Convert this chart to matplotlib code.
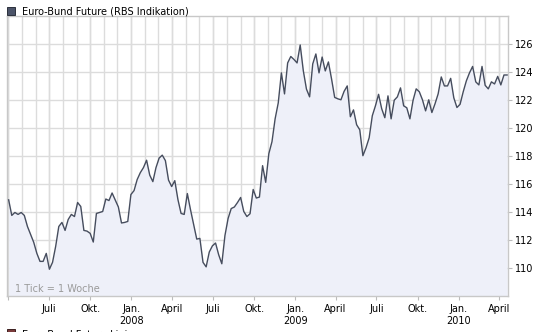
import matplotlib
matplotlib.use("Agg")
import matplotlib.pyplot as plt
import matplotlib.dates as mdates
from matplotlib.patches import Rectangle
from matplotlib.ticker import FuncFormatter
import numpy as np
import pandas as pd

# Wochenkurse Euro-Bund Future, ab Anfang April 2007
kurs = [
    114.86, 113.75, 113.96, 113.82, 113.96, 113.75, 112.96, 112.39, 111.83, 111.04,
    110.47, 110.47, 111.04, 109.91, 110.40, 111.54, 112.96, 113.25, 112.68, 113.46,
    113.82, 113.67, 114.67, 114.39, 112.68, 112.63, 112.47, 111.85, 113.89, 113.96,
    114.03, 114.92, 114.81, 115.35, 114.85, 114.35, 113.21, 113.25, 113.32, 115.24,
    115.52, 116.31, 116.80, 117.16, 117.69, 116.63, 116.16, 117.16, 117.84, 118.05,
    117.66, 116.27, 115.81, 116.23, 114.88, 113.89, 113.82, 115.31, 114.17, 113.11,
    112.06, 112.11, 110.40, 110.08, 111.14, 111.58, 111.78, 110.94, 110.30, 112.32,
    113.53, 114.24, 114.35, 114.67, 115.03, 114.03, 113.67, 113.87, 115.60, 114.99,
    115.06, 117.30, 116.11, 118.16, 119.01, 120.64, 121.78, 123.92, 122.42, 124.63,
    125.09, 124.88, 124.63, 125.91, 124.06, 122.76, 122.21, 124.56, 125.27, 123.92,
    125.05, 124.06, 124.70, 123.49, 122.17, 122.07, 122.00, 122.60, 122.99, 120.79,
    121.28, 120.22, 119.86, 118.01, 118.58, 119.29, 120.86, 121.57, 122.39, 121.36,
    120.72, 122.28, 120.64, 121.97, 122.21, 122.85, 121.57, 121.43, 120.64, 121.96,
    122.78, 122.57, 122.00, 121.21, 122.00, 121.09, 121.71, 122.42, 123.63, 122.99,
    122.99, 123.53, 122.14, 121.45, 121.68, 122.57, 123.35, 123.92, 124.38, 123.28,
    123.06, 124.38, 123.03, 122.78, 123.28, 123.13, 123.67, 123.06, 123.77, 123.77,
]
datum = pd.date_range("2007-04-02", periods=len(kurs), freq="7D")

y_ticks = [110, 112, 114, 116, 118, 120, 122, 124, 126]
monate = {1: "Jan.", 4: "April", 7: "Juli", 10: "Okt."}

W, H = 538, 332
fig = plt.figure(figsize=(W / 100, H / 100), dpi=100)
ax = fig.add_axes([7.3 / W, 1 - 296 / H, (508 - 7.3) / W, (296 - 15.7) / H])

gitter = "#dcdcdc"
ax.fill_between(datum, kurs, 108, color="#eef0f9", lw=0, zorder=1)
ax.plot(datum, kurs, color="#464d5e", lw=1.0, zorder=3)

start = pd.Timestamp("2007-03-30")
ax.set_xlim(start, pd.Timestamp("2010-04-21"))
ax.set_ylim(108, 128)

# x-Achse: Gitter monatlich, Beschriftung quartalsweise ab Juli 2007
ax.xaxis.set_major_locator(mdates.MonthLocator(bymonth=[1, 4, 7, 10]))
ax.xaxis.set_minor_locator(mdates.MonthLocator())


def monat_label(x, pos):
    d = mdates.num2date(x)
    if d.year == 2007 and d.month < 5:
        return ""
    txt = monate.get(d.month, "")
    if d.month == 1:
        txt += "\n" + str(d.year)
    return txt


ax.xaxis.set_major_formatter(FuncFormatter(monat_label))
ax.xaxis.remove_overlapping_locs = False
ax.grid(which="both", axis="x", color=gitter, lw=1.0, zorder=0)
ax.tick_params(axis="x", which="major", length=3, width=0.8, color="#bbbbbb",
               labelsize=7, pad=3, labelcolor="black")
ax.tick_params(axis="x", which="minor", length=0)

# y-Achse rechts
ax.yaxis.tick_right()
ax.set_yticks(y_ticks)
ax.grid(which="major", axis="y", color=gitter, lw=1.0, zorder=0)
ax.tick_params(axis="y", length=3, width=0.8, color="#bbbbbb", labelsize=7, pad=2)

for s in ax.spines.values():
    s.set_color("#c8c8c8")
    s.set_linewidth(1.0)
ax.set_axisbelow(True)

ax.text(0.0154, 0.025, "1 Tick = 1 Woche", transform=ax.transAxes, fontsize=7,
        color="#9a9a9a", va="center", ha="left", zorder=4)

# Legende oben
fig.add_artist(Rectangle((7 / W, 1 - 15 / H), 8 / W, 8 / H, transform=fig.transFigure,
                         facecolor="#4b5368", edgecolor="#2b303b", lw=0.7))
fig.text(21.5 / W, 1 - 11 / H, "Euro-Bund Future (RBS Indikation)", fontsize=7.0,
         va="center", ha="left", color="black")

# zweiter Legendeneintrag, unten angeschnitten
fig.add_artist(Rectangle((7 / W, 1 - 337 / H), 8 / W, 8 / H, transform=fig.transFigure,
                         facecolor="#7a3a3a", edgecolor="#3b2020", lw=0.7))
fig.text(21.5 / W, 1 - 329.5 / H, "Euro-Bund Future Linie", fontsize=7.0,
         va="top", ha="left", color="black")

fig.savefig("out.png", dpi=100)
